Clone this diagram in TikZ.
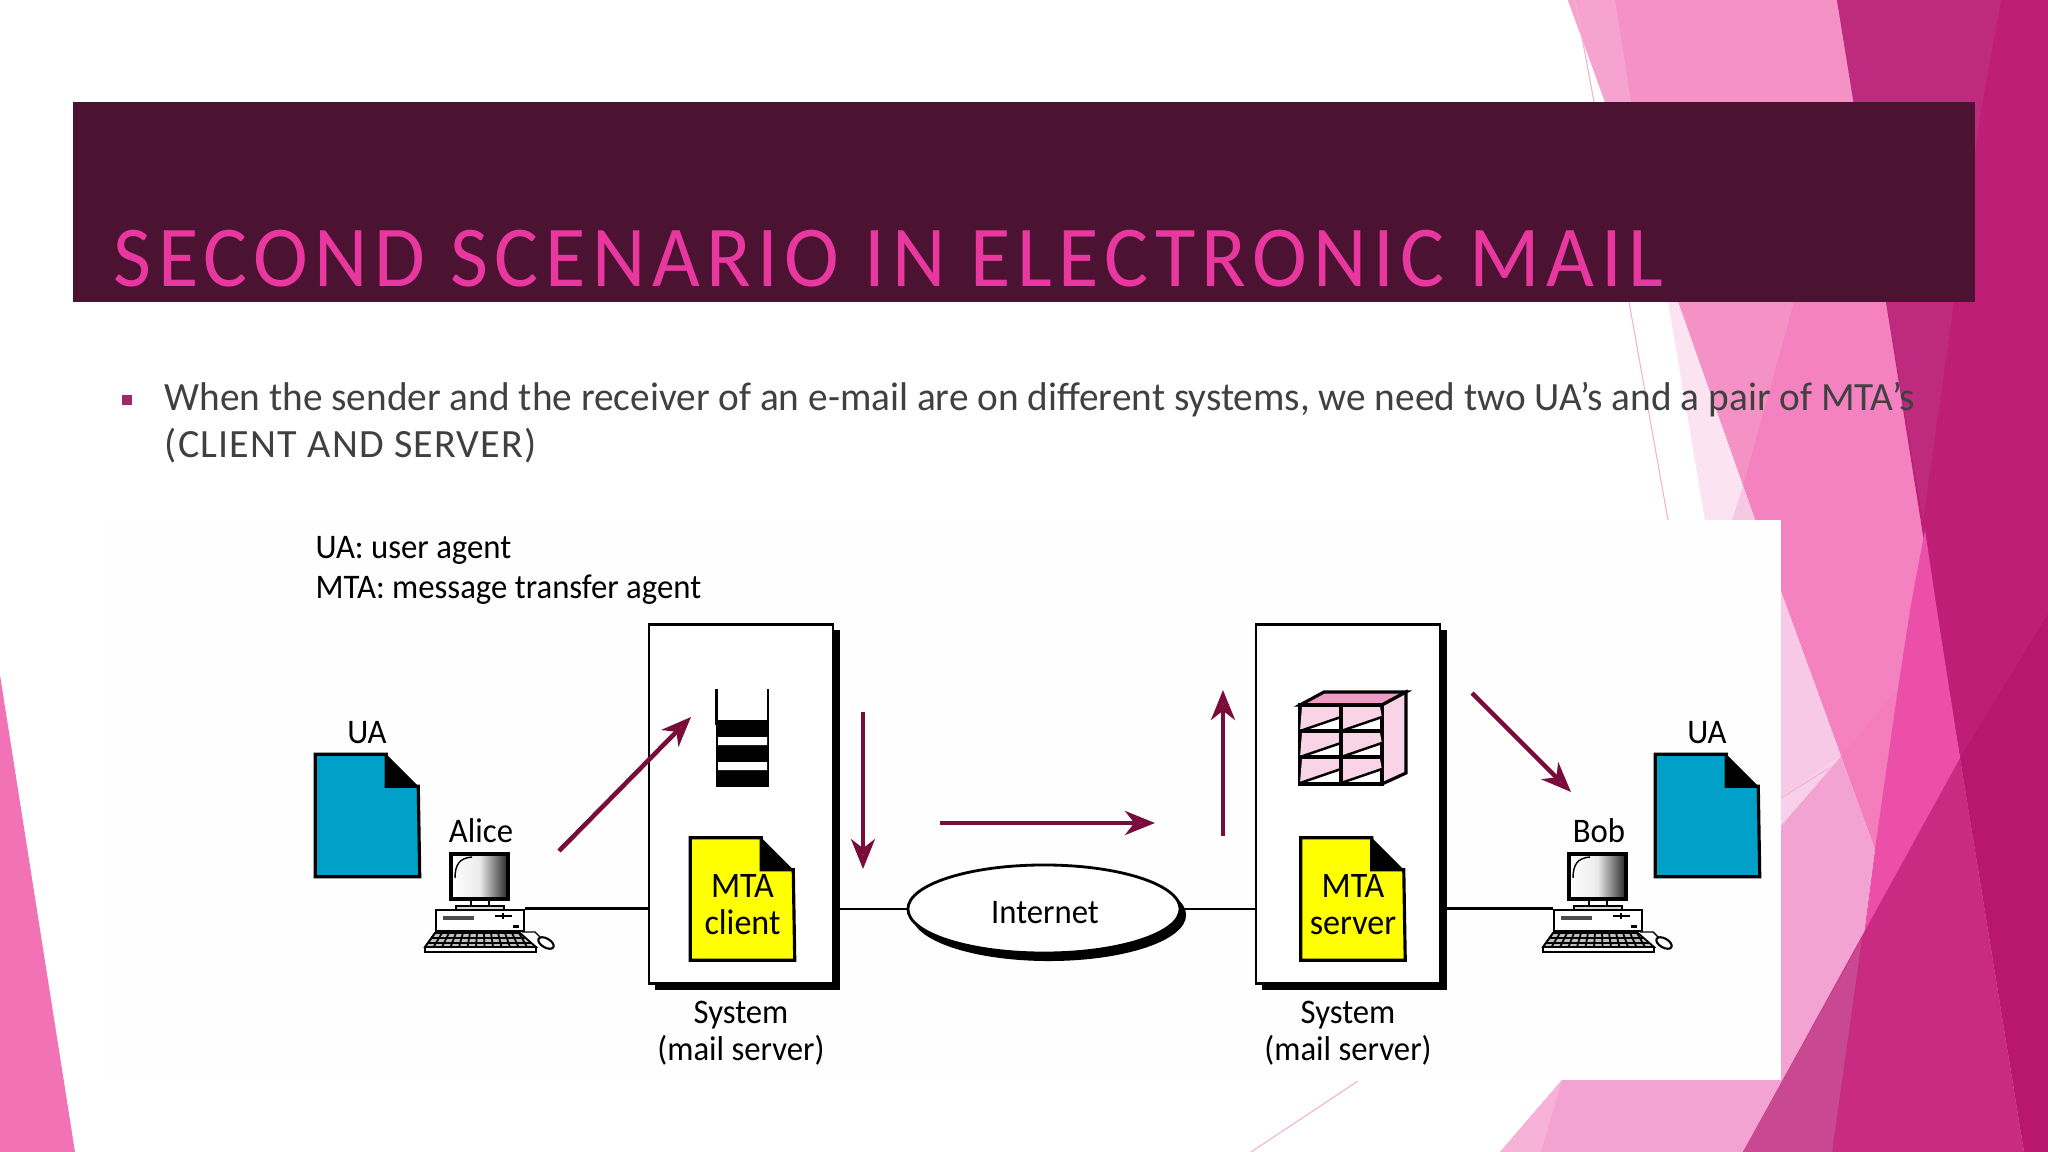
\documentclass[tikz,border=0pt]{standalone}
\usepackage{fontspec}
\setmainfont{Carlito}
\newfontfamily\titlefont[LetterSpace=7.5,FakeStretch=0.95]{Carlito}
\newfontfamily\bodyfont[FakeStretch=0.98]{Carlito}
\newfontfamily\capsfont[LetterSpace=3]{Carlito}
\newfontfamily\diagramfont[FakeStretch=0.95]{Carlito}
\usetikzlibrary{arrows.meta,shapes.geometric}
\definecolor{bannerDark}{HTML}{4B1232}
\definecolor{titlePink}{HTML}{E8389F}
\definecolor{bodyGrey}{HTML}{404040}
\definecolor{bulletPlum}{HTML}{9B2A66}
\definecolor{arrowShaft}{HTML}{7A0C3C}
\definecolor{arrowHead}{HTML}{B4104F}
\definecolor{docBlue}{HTML}{00A0C8}
\definecolor{docYellow}{HTML}{FFFF00}
\definecolor{cabinetTop}{HTML}{F29AC6}
\definecolor{cabinetPale}{HTML}{F9D3E6}
\definecolor{sheetWhite}{HTML}{FEFEFE}
\definecolor{hairPink}{HTML}{F4B0D0}
\begin{document}
\begin{tikzpicture}
		[x=0.01cm,y=-0.01cm,
			lineDecorate/.style={-,line width=0.85pt},
			arrowDecorate/.style={-{Stealth[length=8.5pt,width=6.8pt,inset=2.6pt,fill=arrowHead]},line width=1.3pt,color=arrowShaft},
			labelDecorate/.style={inner sep=0pt,align=center,font=\fontsize{9.8}{10.5}\diagramfont},
			sysDecorate/.style={shape=rectangle,inner sep=0pt,minimum width=1.84cm,minimum height=3.58cm,draw,fill=white,line width=0.8pt},
			shadowDecorate/.style={shape=rectangle,inner sep=0pt,minimum width=1.84cm,minimum height=3.6cm,fill=black},
			docDecorate/.style={line width=0.9pt,draw=black},
			pcDecorate/.style={line width=0.5pt,draw=black}]
	\useasboundingbox (0,0) rectangle (2048,1152);
	\foreach \tint/\outline in {
			F492C6/{(1568,0) -- (1837,0) -- (1975,850) -- (1875,849) -- (1841,756) -- (1755,520) -- (1678,302)},
			F482C1/{(1794,302) -- (1886,302) -- (1925,548) -- (1911,604) -- (1898,688) -- (1841,756) -- (1743,486)},
			F47DBB/{(1841,756) -- (1898,688) -- (1875,849)},
			F6A3CF/{(1568,0) -- (1615,0) -- (1631,102) -- (1605,102)},
			FBE3F2/{(1668,302) -- (1678,302) -- (1755,520) -- (1705,520)},
			F6C8E4/{(1732,520) -- (1743,486) -- (1755,520)},
			BE1E75/{(1837,0) -- (2048,0) -- (2048,1152) -- (2024,1152) -- (1960,758) -- (1925,548) -- (1886,302)},
			BE2A7D/{(1837,0) -- (2001,0) -- (1982,105) -- (1923,520) -- (1886,302)},
			B7176F/{(1960,758) -- (2048,614) -- (2048,1152) -- (2024,1152)},
			EC4FA8/{(1925,530) -- (1936,604) -- (1960,758) -- (1864,933) -- (1875,849) -- (1898,688) -- (1911,604)},
			F3A3D1/{(1841,756) -- (1875,849) -- (1864,933) -- (1743,1152) -- (1500,1152)},
			F7B2D8/{(1500,1152) -- (1562,1080) -- (1541,1152)},
			F8C9E5/{(1755,520) -- (1841,756) -- (1755,815)},
			F9D0E9/{(1755,815) -- (1841,756) -- (1755,855)},
			C92A82/{(1743,1152) -- (1960,758) -- (2024,1152)},
			C84892/{(1743,1152) -- (1862,938) -- (1832,1152)},
			F272B6/{(0,675) -- (75,1152) -- (0,1152)}}
		{
			\definecolor{patch}{HTML}{\tint}
			\fill [patch] \outline -- cycle;
		}
	\fill [sheetWhite] (110,520) rectangle (1781,1080);
	\foreach \startx/\starty/\endx/\endy in {
			1575/0/1594/102, 1629/302/1668/520, 1781/798/1829/768, 1251/1152/1358/1081}
		{
			\draw [color=hairPink,line width=0.3pt] (\startx,\starty) -- (\endx,\endy);
		}
	\node (banner) at (1024,202) [shape=rectangle,inner sep=0pt,minimum width=19cm,minimum height=2cm,fill=bannerDark] {};
	\node (title) at (113,287) [anchor=base west,inner sep=0pt,color=titlePink,font=\fontsize{24.7}{26}\titlefont] {SECOND SCENARIO IN ELECTRONIC MAIL};
	\node (bullet) at (127,400) [shape=rectangle,inner sep=0pt,minimum size=0.1cm,fill=bulletPlum] {};
	\node (lineOne) at (164,411) [anchor=base west,inner sep=0pt,color=bodyGrey,font=\fontsize{11.4}{13}\bodyfont] {When the sender and the receiver of an e-mail are on different systems, we need two UA’s and a pair of MTA’s};
	\node (lineTwo) at (164,458) [anchor=base west,inner sep=0pt,color=bodyGrey,font=\fontsize{11.4}{13}\capsfont] {(CLIENT AND SERVER)};
	\node (legendUa) at (315,558) [anchor=base west,labelDecorate] {UA: user agent};
	\node (legendMta) at (315,598) [anchor=base west,labelDecorate] {MTA: message transfer agent};
	\foreach \nodename/\x in {sysLeft/741, sysRight/1348}
		{
			\node (\nodename Shadow) at (\x+6.5,810) [shadowDecorate] {};
			\node (\nodename) at (\x,804) [sysDecorate] {};
			\node (\nodename Label) at (\x,1033) [labelDecorate] {System\\(mail server)};
		}
	\foreach \nodename/\x/\y/\paper/\doctext in {
			uaLeft/367.5/815.5/docBlue/{}, uaRight/1707.5/815.5/docBlue/{},
			mtaClient/742.5/899/docYellow/{MTA\\client}, mtaServer/1353/899/docYellow/{MTA\\server}}
		{
			\node (\nodename) at (\x,\y) [shape=rectangle,inner sep=0pt,minimum width=1.03cm,minimum height=1.21cm] {};
			\filldraw [docDecorate,fill=\paper] (\nodename.north west) -- ++(71,0) -- ++(0,32) -- ++(32,0) -- (\nodename.south east) -- (\nodename.south west) -- cycle;
			\fill [black] (\nodename.north west) ++(71,0) -- ++(32,32) -- ++(-32,0) -- cycle;
			\node (\nodename Text) at (\x,\y+6) [labelDecorate,font=\fontsize{10.2}{10.5}\diagramfont] {\doctext};
		}
	\node (uaLeftLabel) at (367,733) [labelDecorate] {UA};
	\node (uaRightLabel) at (1707,733) [labelDecorate] {UA};
	\fill [black] (715.5,720) rectangle (769,787);
	\fill [white] (718,737) rectangle (767,745) (718,762) rectangle (767,770);
	\draw [line width=0.8pt] (716.5,689) -- (716.5,725) (768,689) -- (768,725);
	\filldraw [docDecorate,fill=cabinetTop] (1300,705) -- (1324,692) -- (1406,692) -- (1382,705) -- cycle;
	\filldraw [docDecorate,fill=cabinetPale] (1382,705) -- (1406,692) -- (1406,773) -- (1382,784) -- cycle;
	\node (cabinet) at (1341,744.5) [shape=rectangle,inner sep=0pt,minimum width=0.82cm,minimum height=0.79cm,draw,fill=white,line width=0.9pt] {};
	\foreach \x in {1300,1341}
		\foreach \y in {705,731,757}
			{
				\fill [cabinetPale] (\x+2,\y+2) -- (\x+39,\y+2) -- (\x+41,\y+13) -- (\x,\y+26) -- cycle;
				\draw [line width=0.7pt] (\x,\y+26) -- (\x+41,\y+12);
			}
	\draw [line width=0.9pt] (1341,705) -- (1341,784) (1300,731) -- (1382,731) (1300,757) -- (1382,757);
	\node (internetShadow) at (1049,915) [shape=ellipse,inner sep=0pt,minimum width=2.74cm,minimum height=0.92cm,fill=black] {};
	\node (internet) at (1044,909) [shape=ellipse,inner sep=0pt,minimum width=2.72cm,minimum height=0.88cm,draw,fill=white,line width=0.8pt] {};
	\node (internetLabel) at (1045,913) [labelDecorate] {Internet};
	\foreach \pcname/\dx/\pclabel in {alice/0/Alice, bob/1118/Bob}
		{
			\begin{scope}[shift={(\dx,0)}]
				\node (\pcname Label) at (481,831) [labelDecorate] {\pclabel};
				\draw [pcDecorate,fill=white] (471,900) rectangle (489,906);
				\draw [pcDecorate,fill=black!15] (456,906) rectangle (504,910);
				\node (\pcname Pc) at (480,920.5) [shape=rectangle,inner sep=0pt,minimum width=0.88cm,minimum height=0.21cm,draw,fill=white,line width=0.6pt] {};
				\filldraw [line width=1.4pt,draw=black,left color=white,right color=black!85,middle color=black!8] (451,854) rectangle (508,899);
				\draw [line width=0.4pt] (455,878) .. controls (455,864) and (460,858) .. (472,857);
				\fill [black!70] (443,916) rectangle (474,920);
				\draw [line width=0.8pt] (495,916) -- (512,916) (503,913) -- (503,919);
				\fill [black] (513,925) rectangle (519,928);
				\filldraw [pcDecorate,fill=black!25] (435,933) -- (520,933) -- (536,947) -- (425,947) -- cycle;
				\foreach \k in {0,...,12}
					{
						\draw [line width=0.5pt] (435+\k*7,933) -- (425+\k*8.5,947);
					}
				\draw [line width=0.5pt] (431,938) -- (525,938) (427,943) -- (531,943);
				\draw [pcDecorate,fill=white] (425,947) rectangle (536,952);
				\draw [line width=0.4pt] (522,932) -- (535,932) -- (541,938);
				\node (\pcname Mouse) at (546,943) [shape=ellipse,inner sep=0pt,minimum width=0.17cm,minimum height=0.09cm,rotate=-30,draw,fill=white,line width=0.6pt] {};
			\end{scope}
		}
	\foreach \nodename/\x/\y in {
			pushFrom/559/851, pushTo/691/717, queueFrom/863/712, queueTo/863/869,
			wanFrom/940/823, wanTo/1155/823, mailboxFrom/1223/836, mailboxTo/1223/690,
			fetchFrom/1472/693, fetchTo/1571/792}
		{
			\coordinate (\nodename) at (\x,\y);
		}
	\path
	\foreach \startnode/\endnode in {alicePc.north east/sysLeft.west |- alicePc.north east, bobPc.north west/sysRightShadow.east |- bobPc.north west}
		{
			(\startnode) edge[lineDecorate] (\endnode)
		}
	\foreach \startnode/\endnode in {internet.west/sysLeftShadow.east |- internet.west, internet.east/sysRight.west |- internet.east}
		{
			(\startnode) edge[lineDecorate] (\endnode)
		}
	\foreach \startnode/\endnode in {pushFrom/pushTo, queueFrom/queueTo, wanFrom/wanTo, mailboxFrom/mailboxTo, fetchFrom/fetchTo}
		{
			(\startnode) edge[arrowDecorate] (\endnode)
		};
\end{tikzpicture}
\end{document}
